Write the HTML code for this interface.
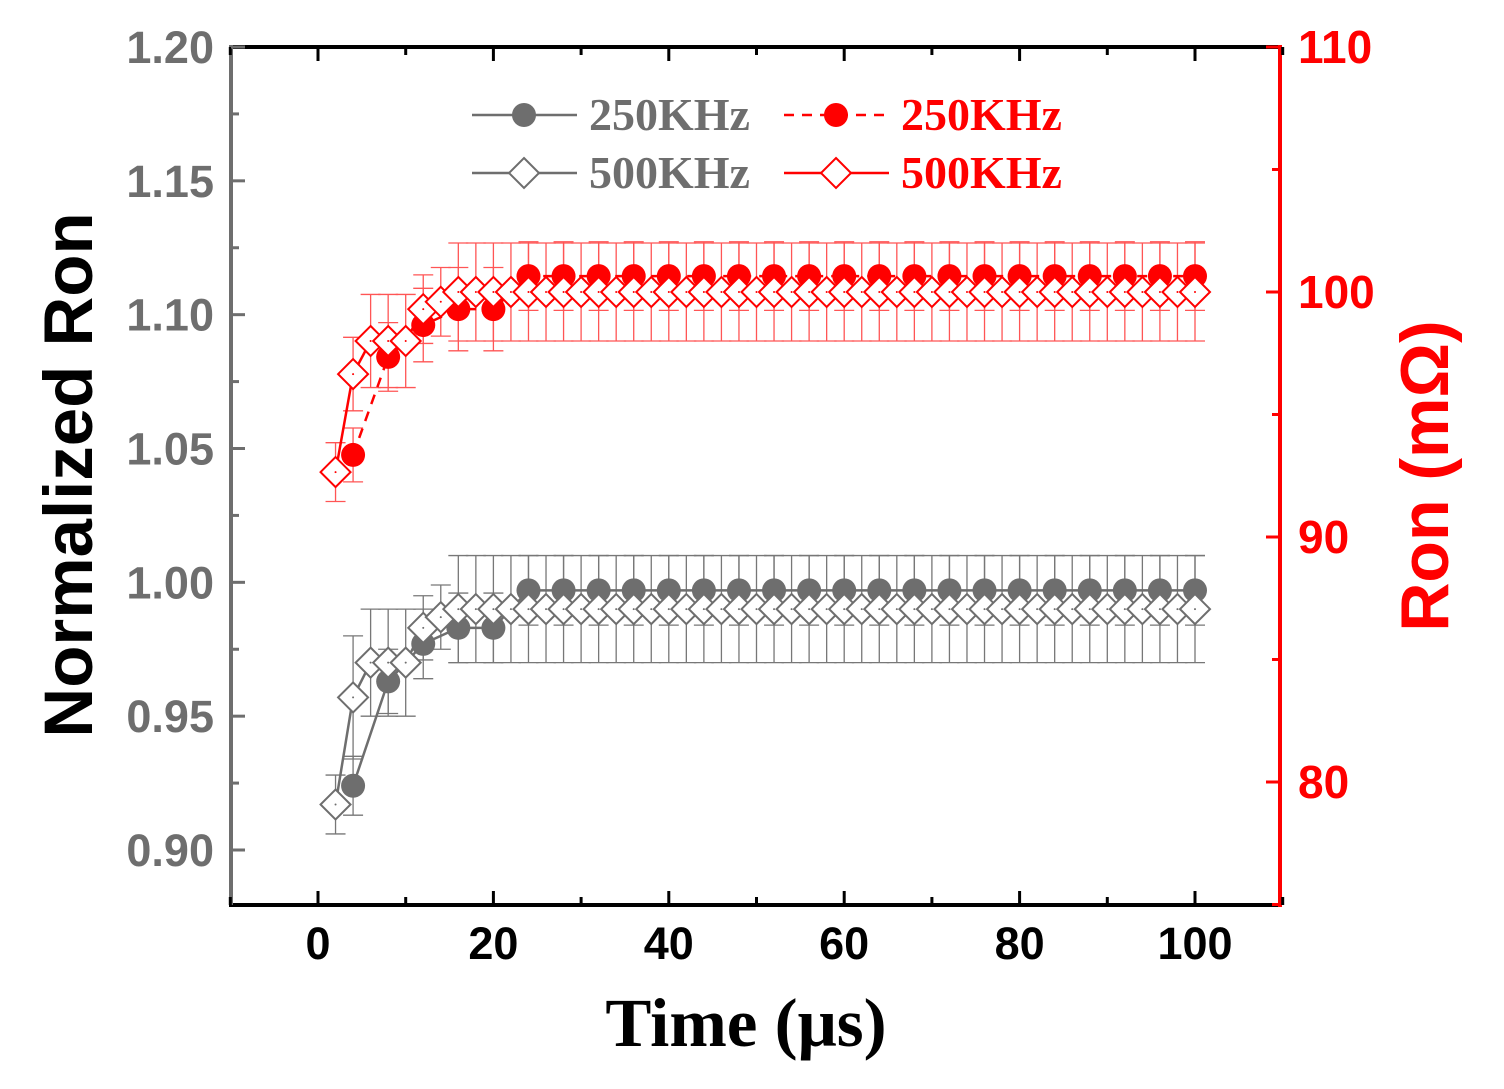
<!DOCTYPE html>
<html><head><meta charset="utf-8"><style>
html,body{margin:0;padding:0;background:#fff;}
svg{display:block;}
</style></head><body>
<svg id="chart" width="1504" height="1089" viewBox="0 0 1504 1089" xmlns="http://www.w3.org/2000/svg">
<g id="grid"></g>
<g id="marks"></g>
<g id="axes"></g>
</svg>
<script>
const gray250X=[4,8,12,16,20,24,28,32,36,40,44,48,52,56,60,64,68,72,76,80,84,88,92,96,100];
const gray250Y=[0.924,0.963,0.977,0.983,0.983,0.997,0.997,0.997,0.997,0.997,0.997,0.997,0.997,0.997,0.997,0.997,0.997,0.997,0.997,0.997,0.997,0.997,0.997,0.997,0.997];
const gray250E=[0.011,0.012,0.013,0.013,0.013,0.013,0.013,0.013,0.013,0.013,0.013,0.013,0.013,0.013,0.013,0.013,0.013,0.013,0.013,0.013,0.013,0.013,0.013,0.013,0.013];
const gray500X=[2,4,6,8,10,12,14,16,18,20,22,24,26,28,30,32,34,36,38,40,42,44,46,48,50,52,54,56,58,60,62,64,66,68,70,72,74,76,78,80,82,84,86,88,90,92,94,96,98,100];
const gray500Y=[0.917,0.957,0.970,0.970,0.970,0.983,0.987,0.990,0.990,0.990,0.990,0.990,0.990,0.990,0.990,0.990,0.990,0.990,0.990,0.990,0.990,0.990,0.990,0.990,0.990,0.990,0.990,0.990,0.990,0.990,0.990,0.990,0.990,0.990,0.990,0.990,0.990,0.990,0.990,0.990,0.990,0.990,0.990,0.990,0.990,0.990,0.990,0.990,0.990,0.990];
const gray500E=[0.011,0.023,0.02,0.02,0.02,0.012,0.012,0.02,0.02,0.02,0.02,0.02,0.02,0.02,0.02,0.02,0.02,0.02,0.02,0.02,0.02,0.02,0.02,0.02,0.02,0.02,0.02,0.02,0.02,0.02,0.02,0.02,0.02,0.02,0.02,0.02,0.02,0.02,0.02,0.02,0.02,0.02,0.02,0.02,0.02,0.02,0.02,0.02,0.02,0.02];
const red250X=gray250X.slice();
const red250Y=[93.35,97.35,98.65,99.3,99.3,100.65,100.65,100.65,100.65,100.65,100.65,100.65,100.65,100.65,100.65,100.65,100.65,100.65,100.65,100.65,100.65,100.65,100.65,100.65,100.65];
const red250E=[1.1,1.4,1.5,1.7,1.7,1.4,1.4,1.4,1.4,1.4,1.4,1.4,1.4,1.4,1.4,1.4,1.4,1.4,1.4,1.4,1.4,1.4,1.4,1.4,1.4];
const red500X=gray500X.slice();
const red500Y=[92.65,96.65,98,98,98,99.3,99.6,100,100,100,100,100,100,100,100,100,100,100,100,100,100,100,100,100,100,100,100,100,100,100,100,100,100,100,100,100,100,100,100,100,100,100,100,100,100,100,100,100,100,100];
const red500E=[1.2,1.5,1.9,1.9,1.9,1.4,1.4,2,2,2,2,2,2,2,2,2,2,2,2,2,2,2,2,2,2,2,2,2,2,2,2,2,2,2,2,2,2,2,2,2,2,2,2,2,2,2,2,2,2,2];
const xTicks=[0,20,40,60,80,100];
const yLTicks=["0.90","0.95","1.00","1.05","1.10","1.15","1.20"];
const yRTicks=[80,90,100,110];

const L=231,R=1280,T=47,B=905;
const X=v=>318+(v-0)*(1195-318)/100;
const YL=v=>850-(v-0.90)*(850-47)/0.30;
const YR=v=>782-(v-80)*(782-47)/30;
const NS="http://www.w3.org/2000/svg";
const svg=document.getElementById('chart');
const marks=document.getElementById('marks');
const axes=document.getElementById('axes');
function mk(tag,attrs,parent,text){const e=document.createElementNS(NS,tag);for(const k in attrs)e.setAttribute(k,attrs[k]);if(text!==undefined)e.textContent=text;parent.appendChild(e);return e;}

function errbars(xs,ys,es,Y,color,g){
  xs.forEach((x,i)=>{const px=X(x),t=Y(ys[i]+es[i]),b=Y(ys[i]-es[i]);
    const e=mk('path',{d:`M${px},${t}V${b}M${px-10},${t}H${px+10}M${px-10},${b}H${px+10}`,stroke:color,'stroke-width':1.3,fill:'none'},g);
    
    
  });
}
function line(xs,ys,Y,color,dash,g){
  const d=xs.map((x,i)=>(i?'L':'M')+X(x)+','+Y(ys[i])).join('');
  const e=mk('path',{d,stroke:color,'stroke-width':2.5,fill:'none','stroke-dasharray':dash||'none'},g);
  
  
}
function circles(xs,ys,Y,color,g){
  xs.forEach((x,i)=>{const e=mk('circle',{cx:X(x),cy:Y(ys[i]),r:12,fill:color},g);
    
    });
}
function diamonds(xs,ys,Y,color,g){
  xs.forEach((x,i)=>{const px=X(x),py=Y(ys[i]),s=15;
    const e=mk('path',{d:`M${px},${py-s}L${px+s},${py}L${px},${py+s}L${px-s},${py}Z`,fill:'#fff',stroke:color,'stroke-width':2},g);
    
    
    mk('circle',{cx:px,cy:py,r:1,fill:color},g);});
}
const G='#6e6e6e',RD='#ff0000';
errbars(gray250X,gray250Y,gray250E,YL,'#777',marks);
errbars(gray500X,gray500Y,gray500E,YL,'#777',marks);
errbars(red250X,red250Y,red250E,YR,'#ff5555',marks);
errbars(red500X,red500Y,red500E,YR,'#ff5555',marks);
line(gray250X,gray250Y,YL,G,null,marks);
line(red250X,red250Y,YR,RD,'10,8',marks);
circles(gray250X,gray250Y,YL,G,marks);
circles(red250X,red250Y,YR,RD,marks);
line(gray500X,gray500Y,YL,G,null,marks);
line(red500X,red500Y,YR,RD,null,marks);
diamonds(gray500X,gray500Y,YL,G,marks);
diamonds(red500X,red500Y,YR,RD,marks);

mk('line',{x1:L,y1:T,x2:R,y2:T,stroke:'#000','stroke-width':4},axes);
mk('line',{x1:L-2,y1:B,x2:R+2,y2:B,stroke:'#000','stroke-width':4},axes);
mk('line',{x1:L,y1:T-2,x2:L,y2:B,stroke:G,'stroke-width':4},axes);
mk('line',{x1:R,y1:T-2,x2:R,y2:B+2,stroke:RD,'stroke-width':4},axes);
for(let v=-10;v<=110;v+=10){const px=X(v);const maj=v%20===0&&v>=0&&v<=100;const len=maj?14:8;
  mk('line',{x1:px,y1:B,x2:px,y2:B-len,stroke:'#000','stroke-width':3},axes);
  mk('line',{x1:px,y1:T,x2:px,y2:T+len,stroke:'#000','stroke-width':3},axes);}
xTicks.forEach(v=>{const t=mk('text',{x:X(v),y:959,'text-anchor':'middle','font-family':'Liberation Sans, sans-serif','font-weight':'bold','font-size':45,fill:'#000'},axes,String(v));
  
  });
for(let v=0.875;v<=1.2001;v+=0.025){const py=YL(v);if(py>B)continue;const maj=Math.abs((v*100)%5)<0.01||Math.abs((v*100)%5-5)<0.01;
  mk('line',{x1:L,y1:py,x2:L+(maj?14:8),y2:py,stroke:G,'stroke-width':3},axes);}
yLTicks.forEach(s=>{const t=mk('text',{x:214,y:YL(parseFloat(s))+16,'text-anchor':'end','font-family':'Liberation Sans, sans-serif','font-weight':'bold','font-size':45,fill:G},axes,s);
  
  });
for(let v=75;v<=110;v+=5){const py=YR(v);const maj=v%10===0;
  mk('line',{x1:R,y1:py,x2:R-(maj?14:8),y2:py,stroke:RD,'stroke-width':3},axes);}
yRTicks.forEach(v=>{const t=mk('text',{x:1298,y:YR(v)+16,'text-anchor':'start','font-family':'Liberation Sans, sans-serif','font-weight':'bold','font-size':46,fill:RD},axes,String(v));
  
  });
let t=mk('text',{x:746,y:1046,'text-anchor':'middle','font-family':'Liberation Serif, serif','font-weight':'bold','font-size':69,fill:'#000'},axes,'Time (μs)');

t=mk('text',{x:0,y:0,transform:'translate(92,475) rotate(-90)','text-anchor':'middle','font-family':'Liberation Sans, sans-serif','font-weight':'bold','font-size':69,fill:'#000'},axes,'Normalized Ron');

t=mk('text',{x:0,y:0,transform:'translate(1448,476) rotate(-90)','text-anchor':'middle','font-family':'Liberation Sans, sans-serif','font-weight':'bold','font-size':68,fill:RD},axes,'Ron (mΩ)');

function leg(x,y,color,dash,marker,label){
  const g=mk('g',{},axes);
  
  
  mk('line',{x1:x,y1:y,x2:x+105,y2:y,stroke:color,'stroke-width':2.5,'stroke-dasharray':dash||'none'},g);
  const cx=x+52;
  if(marker==='c')mk('circle',{cx,cy:y,r:12,fill:color},g);
  else mk('path',{d:`M${cx},${y-15}L${cx+15},${y}L${cx},${y+15}L${cx-15},${y}Z`,fill:'#fff',stroke:color,'stroke-width':2},g);
  mk('text',{x:x+117,y:y+15,'font-family':'Liberation Serif, serif','font-weight':'bold','font-size':46,fill:color},g,label);
}
leg(472,115,G,null,'c','250KHz');
leg(472,173,G,null,'d','500KHz');
leg(784,115,RD,'10,8','c','250KHz');
leg(784,173,RD,null,'d','500KHz');
</script>
</body></html>
